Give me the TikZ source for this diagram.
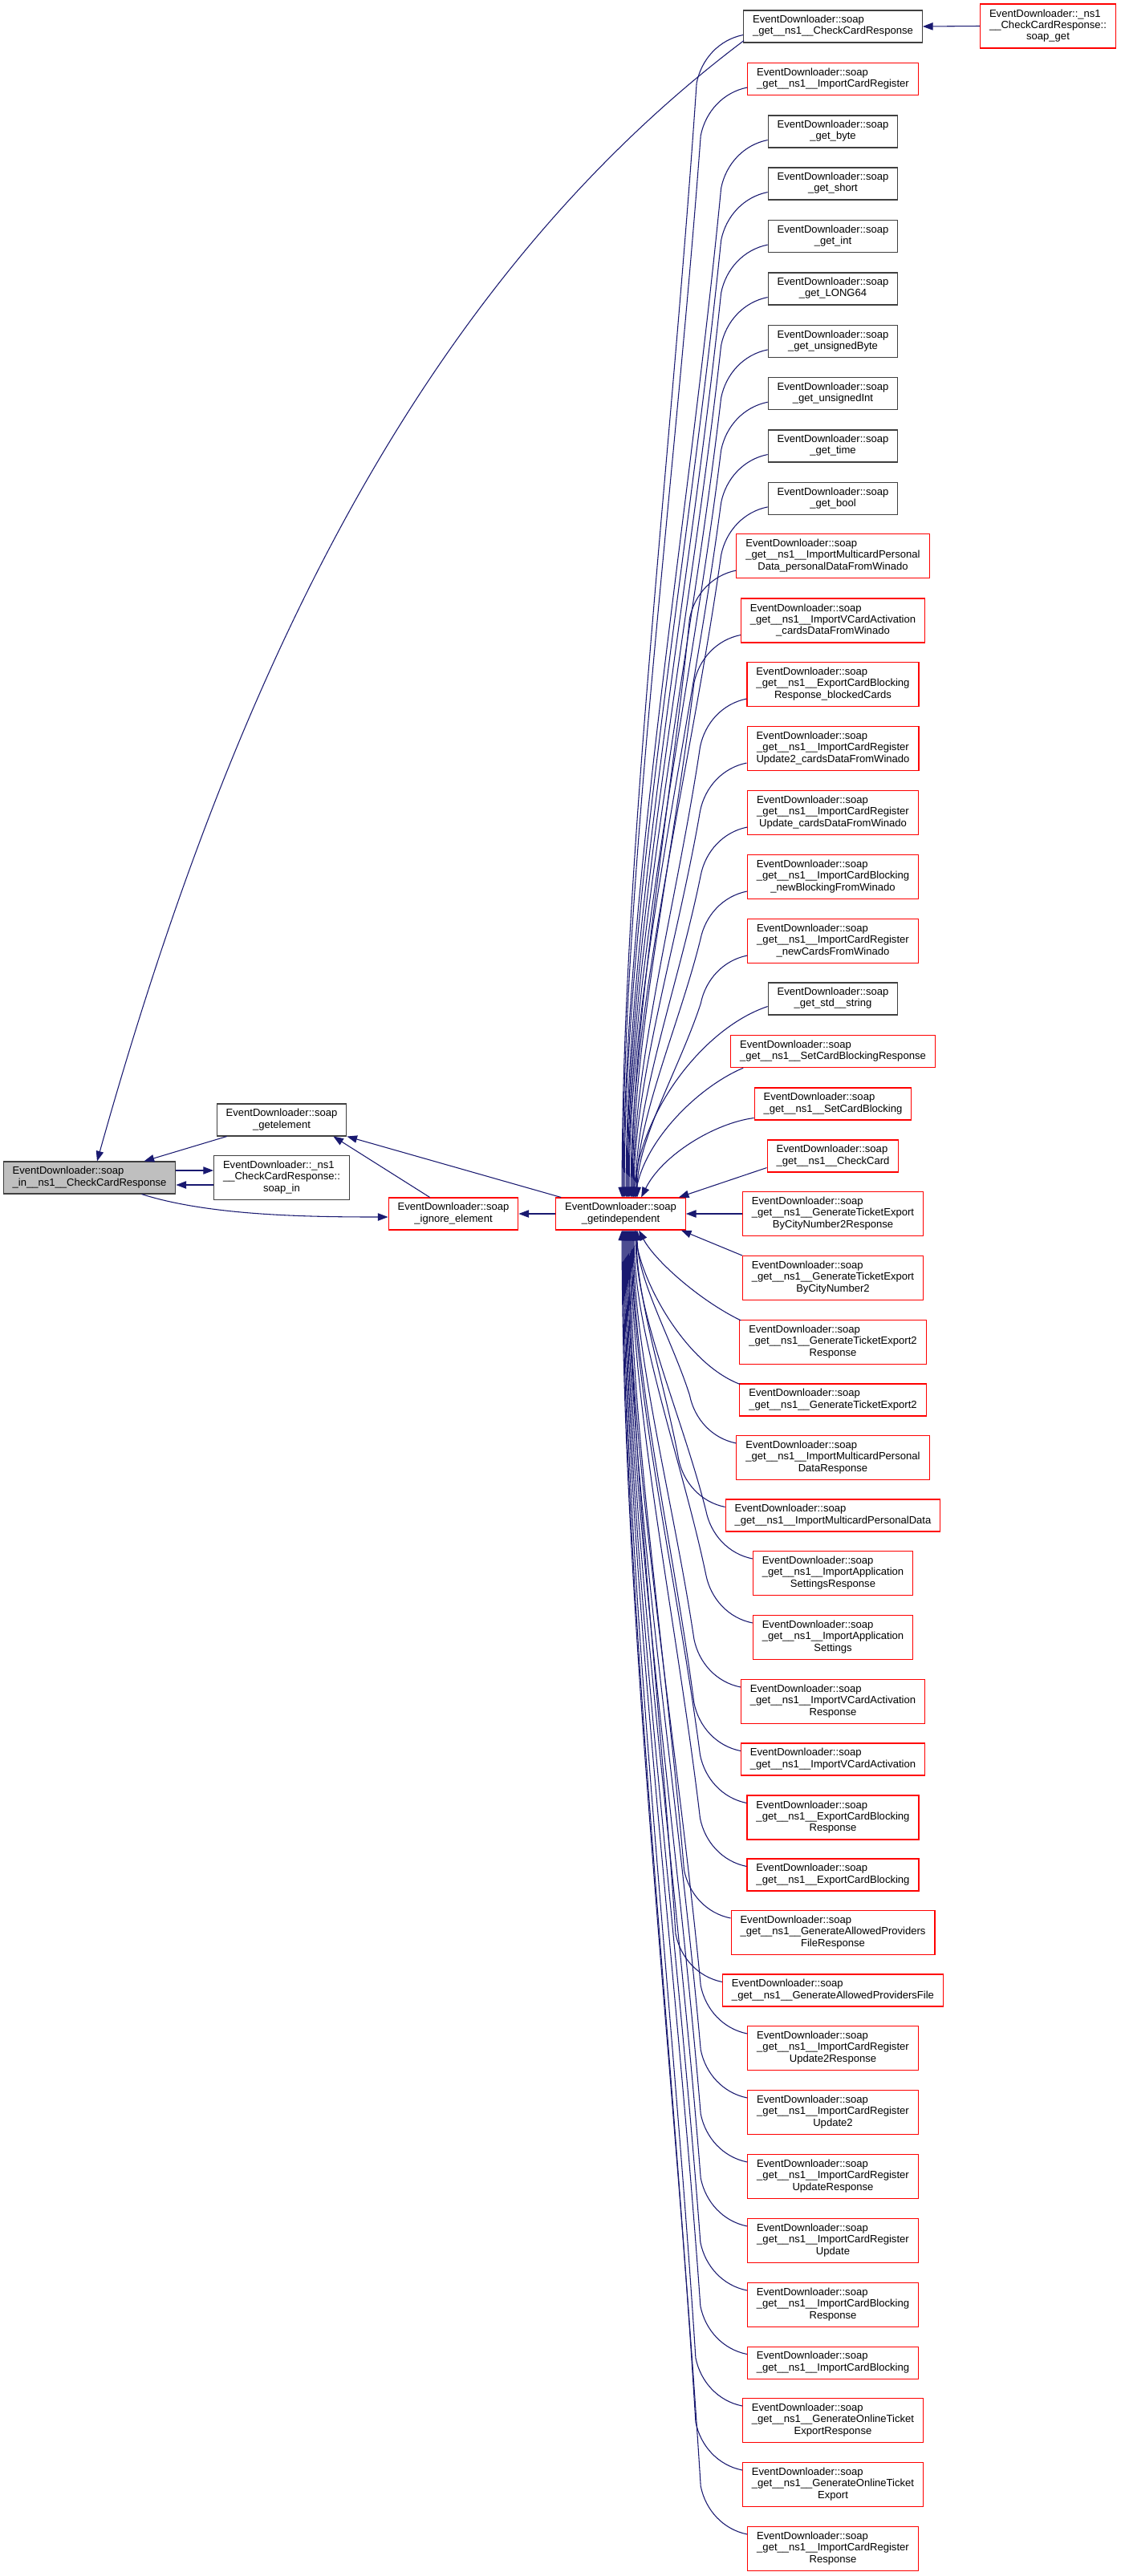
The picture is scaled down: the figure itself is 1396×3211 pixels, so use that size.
\documentclass[tikz,border=0pt]{standalone}
\usepackage{fontspec}
\setmainfont{Liberation Sans}
\usetikzlibrary{calc,arrows.meta}
\definecolor{edgeblue}{HTML}{191970}
\definecolor{nodegray}{HTML}{404040}
\definecolor{mainfill}{HTML}{BFBFBF}
\def\fnlabel#1#2{\begin{tabular}{@{}c@{}}\multicolumn{1}{@{}l@{}}{#1}\\#2\end{tabular}}
\def\upcall(#1)(#2){\coordinate (t) at ($(gi.north west)+(#2,0)$);
	\draw[callline] ($(#1.south west)+(0,-10)$) coordinate (p) .. controls ($(p)+(-30,6)$) and ($(p)+(-52,30)$) .. ($(p)+(-58,60)$) coordinate (b) .. controls ($(b)!0.33!(t)$) and ($(t)!0.3!(t|-b)$) .. (t);}
\def\downcall(#1)(#2){\coordinate (t) at ($(gi.south west)+(#2,0)$);
	\draw[callline] ($(#1.north west)+(0,10)$) coordinate (p) .. controls ($(p)+(-30,-6)$) and ($(p)+(-52,-30)$) .. ($(p)+(-58,-60)$) coordinate (b) .. controls ($(b)!0.33!(t)$) and ($(t)!0.3!(t|-b)$) .. (t);}

\begin{document}
\begin{tikzpicture}[x=0.75pt, y=-0.75pt,
	fnbox/.style={draw=nodegray, line width=0.8pt, inner xsep=8.6pt, inner ysep=0pt, minimum height=30pt, font=\fontsize{9.8}{10.7}\selectfont},
	fnboxred/.style={fnbox, draw=red},
	fnhigh/.style={minimum height=41.25pt},
	callline/.style={draw=edgeblue, line width=0.8pt, -{Triangle[length=9.5pt,width=7pt]}}]
		%%%%% START %%%%%
		\useasboundingbox (0,0) rectangle (1396,3211);
		
		\node[fnbox, fill=mainfill] (main) at (111.5,1468) {\fnlabel{EventDownloader::soap}{\_in\_\_ns1\_\_CheckCardResponse}};
		\node[fnbox] (getel) at (351,1396) {\fnlabel{EventDownloader::soap}{\_getelement}};
		\node[fnbox, fnhigh] (soapin) at (351,1468) {\fnlabel{EventDownloader::\_ns1}{\_\_CheckCardResponse::\\soap\_in}};
		\node[fnboxred] (ignore) at (565,1513) {\fnlabel{EventDownloader::soap}{\_ignore\_element}};
		\node[fnboxred] (gi) at (773.5,1513) {\fnlabel{EventDownloader::soap}{\_getindependent}};
		\node[fnboxred, fnhigh] (soapget) at (1306,32.5) {\fnlabel{EventDownloader::\_ns1}{\_\_CheckCardResponse::\\soap\_get}};
		
		\node[fnbox] (nGetCCR) at (1038,33) {\fnlabel{EventDownloader::soap}{\_get\_\_ns1\_\_CheckCardResponse}};
		\node[fnboxred] (nImpCR) at (1038,98.5) {\fnlabel{EventDownloader::soap}{\_get\_\_ns1\_\_ImportCardRegister}};
		\node[fnbox] (nByte) at (1038,164) {\fnlabel{EventDownloader::soap}{\_get\_byte}};
		\node[fnbox] (nShort) at (1038,229) {\fnlabel{EventDownloader::soap}{\_get\_short}};
		\node[fnbox] (nInt) at (1038,294.6) {\fnlabel{EventDownloader::soap}{\_get\_int}};
		\node[fnbox] (nLong) at (1038,360) {\fnlabel{EventDownloader::soap}{\_get\_LONG64}};
		\node[fnbox] (nUByte) at (1038,425.4) {\fnlabel{EventDownloader::soap}{\_get\_unsignedByte}};
		\node[fnbox] (nUInt) at (1038,490.7) {\fnlabel{EventDownloader::soap}{\_get\_unsignedInt}};
		\node[fnbox] (nTime) at (1038,556) {\fnlabel{EventDownloader::soap}{\_get\_time}};
		\node[fnbox] (nBool) at (1038,621.4) {\fnlabel{EventDownloader::soap}{\_get\_bool}};
		\node[fnboxred, fnhigh] (nMcpdW) at (1038,693) {\fnlabel{EventDownloader::soap}{\_get\_\_ns1\_\_ImportMulticardPersonal\\Data\_personalDataFromWinado}};
		\node[fnboxred, fnhigh] (nVcaW) at (1038,773.5) {\fnlabel{EventDownloader::soap}{\_get\_\_ns1\_\_ImportVCardActivation\\\_cardsDataFromWinado}};
		\node[fnboxred, fnhigh] (nEcbRbc) at (1038,853) {\fnlabel{EventDownloader::soap}{\_get\_\_ns1\_\_ExportCardBlocking\\Response\_blockedCards}};
		\node[fnboxred, fnhigh] (nIcrU2W) at (1038,933) {\fnlabel{EventDownloader::soap}{\_get\_\_ns1\_\_ImportCardRegister\\Update2\_cardsDataFromWinado}};
		\node[fnboxred, fnhigh] (nIcrUW) at (1038,1013) {\fnlabel{EventDownloader::soap}{\_get\_\_ns1\_\_ImportCardRegister\\Update\_cardsDataFromWinado}};
		\node[fnboxred, fnhigh] (nIcbW) at (1038,1093) {\fnlabel{EventDownloader::soap}{\_get\_\_ns1\_\_ImportCardBlocking\\\_newBlockingFromWinado}};
		\node[fnboxred, fnhigh] (nIcrNW) at (1038,1173) {\fnlabel{EventDownloader::soap}{\_get\_\_ns1\_\_ImportCardRegister\\\_newCardsFromWinado}};
		\node[fnbox] (nStr) at (1038,1245) {\fnlabel{EventDownloader::soap}{\_get\_std\_\_string}};
		\node[fnboxred] (nScbR) at (1038,1310.7) {\fnlabel{EventDownloader::soap}{\_get\_\_ns1\_\_SetCardBlockingResponse}};
		\node[fnboxred] (nScb) at (1038,1376) {\fnlabel{EventDownloader::soap}{\_get\_\_ns1\_\_SetCardBlocking}};
		\node[fnboxred] (nCc) at (1038,1441) {\fnlabel{EventDownloader::soap}{\_get\_\_ns1\_\_CheckCard}};
		\node[fnboxred, fnhigh] (nGteB2R) at (1038,1513) {\fnlabel{EventDownloader::soap}{\_get\_\_ns1\_\_GenerateTicketExport\\ByCityNumber2Response}};
		\node[fnboxred, fnhigh] (nGteB2) at (1038,1593) {\fnlabel{EventDownloader::soap}{\_get\_\_ns1\_\_GenerateTicketExport\\ByCityNumber2}};
		\node[fnboxred, fnhigh] (nGte2R) at (1038,1673) {\fnlabel{EventDownloader::soap}{\_get\_\_ns1\_\_GenerateTicketExport2\\Response}};
		\node[fnboxred] (nGte2) at (1038,1745) {\fnlabel{EventDownloader::soap}{\_get\_\_ns1\_\_GenerateTicketExport2}};
		\node[fnboxred, fnhigh] (nMcpdR) at (1038,1817) {\fnlabel{EventDownloader::soap}{\_get\_\_ns1\_\_ImportMulticardPersonal\\DataResponse}};
		\node[fnboxred] (nMcpd) at (1038,1889) {\fnlabel{EventDownloader::soap}{\_get\_\_ns1\_\_ImportMulticardPersonalData}};
		\node[fnboxred, fnhigh] (nIasR) at (1038,1961) {\fnlabel{EventDownloader::soap}{\_get\_\_ns1\_\_ImportApplication\\SettingsResponse}};
		\node[fnboxred, fnhigh] (nIas) at (1038,2041) {\fnlabel{EventDownloader::soap}{\_get\_\_ns1\_\_ImportApplication\\Settings}};
		\node[fnboxred, fnhigh] (nVcaR) at (1038,2121) {\fnlabel{EventDownloader::soap}{\_get\_\_ns1\_\_ImportVCardActivation\\Response}};
		\node[fnboxred] (nVca) at (1038,2193) {\fnlabel{EventDownloader::soap}{\_get\_\_ns1\_\_ImportVCardActivation}};
		\node[fnboxred, fnhigh] (nEcbR) at (1038,2265.5) {\fnlabel{EventDownloader::soap}{\_get\_\_ns1\_\_ExportCardBlocking\\Response}};
		\node[fnboxred] (nEcb) at (1038,2337) {\fnlabel{EventDownloader::soap}{\_get\_\_ns1\_\_ExportCardBlocking}};
		\node[fnboxred, fnhigh] (nGapFR) at (1038,2409) {\fnlabel{EventDownloader::soap}{\_get\_\_ns1\_\_GenerateAllowedProviders\\FileResponse}};
		\node[fnboxred] (nGapF) at (1038,2481) {\fnlabel{EventDownloader::soap}{\_get\_\_ns1\_\_GenerateAllowedProvidersFile}};
		\node[fnboxred, fnhigh] (nIcrU2R) at (1038,2553) {\fnlabel{EventDownloader::soap}{\_get\_\_ns1\_\_ImportCardRegister\\Update2Response}};
		\node[fnboxred, fnhigh] (nIcrU2) at (1038,2633) {\fnlabel{EventDownloader::soap}{\_get\_\_ns1\_\_ImportCardRegister\\Update2}};
		\node[fnboxred, fnhigh] (nIcrUR) at (1038,2713) {\fnlabel{EventDownloader::soap}{\_get\_\_ns1\_\_ImportCardRegister\\UpdateResponse}};
		\node[fnboxred, fnhigh] (nIcrU) at (1038,2793) {\fnlabel{EventDownloader::soap}{\_get\_\_ns1\_\_ImportCardRegister\\Update}};
		\node[fnboxred, fnhigh] (nIcbR) at (1038,2873) {\fnlabel{EventDownloader::soap}{\_get\_\_ns1\_\_ImportCardBlocking\\Response}};
		\node[fnboxred] (nIcb) at (1038,2945) {\fnlabel{EventDownloader::soap}{\_get\_\_ns1\_\_ImportCardBlocking}};
		\node[fnboxred, fnhigh] (nGotER) at (1038,3017) {\fnlabel{EventDownloader::soap}{\_get\_\_ns1\_\_GenerateOnlineTicket\\ExportResponse}};
		\node[fnboxred, fnhigh] (nGotE) at (1038,3097) {\fnlabel{EventDownloader::soap}{\_get\_\_ns1\_\_GenerateOnlineTicket\\Export}};
		\node[fnboxred, fnhigh] (nIcrR) at (1038,3177) {\fnlabel{EventDownloader::soap}{\_get\_\_ns1\_\_ImportCardRegister\\Response}};
		
		\draw[callline] (soapget.west) -- (nGetCCR.east);
		\draw[callline] ($(nGetCCR.south west)+(1,-3)$) .. controls (512,363) and (283,869) .. ($(main.north)+(9.5,0)$);
		\draw[callline] ($(getel.south west)+(13,0)$) -- ($(main.north)+(68,0)$);
		\draw[callline] ($(main.east)+(0,-9)$) -- ($(soapin.west)+(0,-9)$);
		\draw[callline] ($(soapin.west)+(0,9)$) -- ($(main.east)+(0,9)$);
		\draw[callline] ($(main.south)+(65,0)$) .. controls (260,1515) and (380,1517) .. ($(ignore.west)+(0,4)$);
		\draw[callline] ($(ignore.north west)+(52,0)$) -- ($(getel.south east)+(-17,0)$);
		\draw[callline] ($(gi.north west)+(7,0)$) -- (getel.south east);
		\draw[callline] (gi.west) -- (ignore.east);
		
		\upcall(nGetCCR)(83)
		\upcall(nImpCR)(84)
		\upcall(nByte)(85)
		\upcall(nShort)(86)
		\upcall(nInt)(88)
		\upcall(nLong)(89)
		\upcall(nUByte)(90)
		\upcall(nUInt)(91)
		\upcall(nTime)(92)
		\upcall(nBool)(94)
		\upcall(nMcpdW)(95)
		\upcall(nVcaW)(96)
		\upcall(nEcbRbc)(97)
		\upcall(nIcrU2W)(98)
		\upcall(nIcrUW)(100)
		\upcall(nIcbW)(101)
		\upcall(nIcrNW)(102)
		
		\draw[callline] ($(nStr.south west)+(0,-11)$) .. controls (880,1280) and (800,1380) .. ($(gi.north west)+(97,0)$);
		\draw[callline] ($(nScbR.south west)+(16,0)$) .. controls (870,1355) and (805,1420) .. ($(gi.north west)+(99,0)$);
		\draw[callline] ($(nScb.south west)+(0,-3)$) .. controls (890,1400) and (825,1440) .. ($(gi.north west)+(107,0)$);
		\draw[callline] ($(nCc.south west)+(0,-6)$) -- ($(gi.north east)+(-9,0)$);
		\draw[callline] (nGteB2R.west) -- (gi.east);
		\draw[callline] (nGteB2.north west) -- ($(gi.south east)+(-6,0)$);
		\draw[callline] ($(nGte2R.north west)+(2,1)$) .. controls (870,1620) and (815,1570) .. ($(gi.south west)+(104,0)$);
		\draw[callline] ($(nGte2.north west)+(1,1)$) .. controls (855,1700) and (800,1600) .. ($(gi.south west)+(99,0)$);
		
		\downcall(nMcpdR)(102)
		\downcall(nMcpd)(101)
		\downcall(nIasR)(100)
		\downcall(nIas)(98)
		\downcall(nVcaR)(97)
		\downcall(nVca)(96)
		\downcall(nEcbR)(95)
		\downcall(nEcb)(94)
		\downcall(nGapFR)(93)
		\downcall(nGapF)(92)
		\downcall(nIcrU2R)(91)
		\downcall(nIcrU2)(90)
		\downcall(nIcrUR)(89)
		\downcall(nIcrU)(88)
		\downcall(nIcbR)(87)
		\downcall(nIcb)(86)
		\downcall(nGotER)(85)
		\downcall(nGotE)(84)
		\downcall(nIcrR)(83)
		%%%%% END %%%%%
\end{tikzpicture}
\end{document}
